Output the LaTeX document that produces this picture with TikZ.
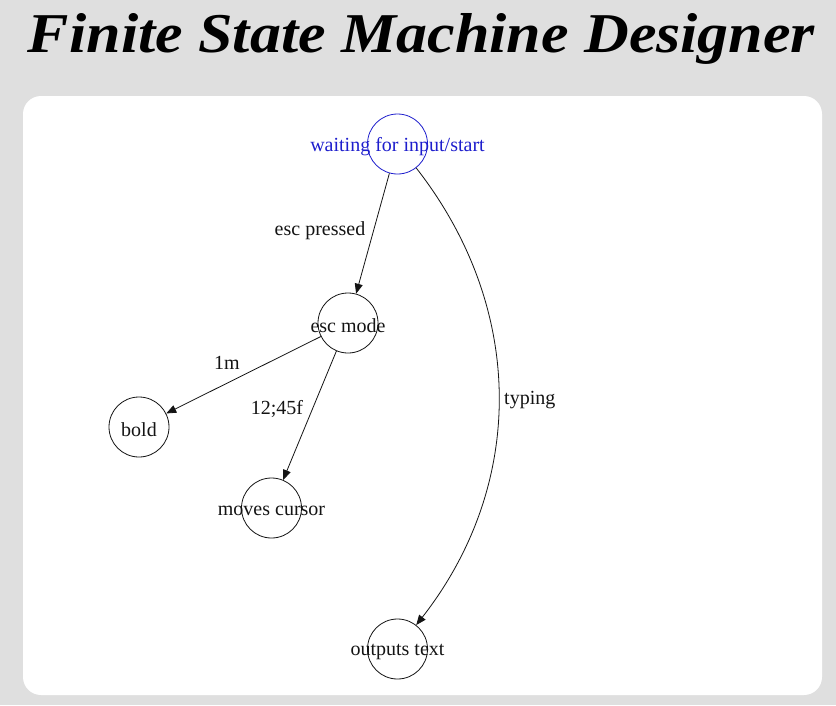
\documentclass[tikz,border=0pt]{standalone}
\usepackage{fontspec}
\setmainfont{Liberation Serif}
\usetikzlibrary{arrows.meta}
\definecolor{bg}{RGB}{223,223,223}
\definecolor{selblue}{RGB}{30,30,205}
\definecolor{ink}{RGB}{20,20,20}
\begin{document}
\begin{tikzpicture}[x=1pt,y=1pt,
  state/.style={circle,draw=ink,minimum size=60pt,inner sep=0pt,line width=0.8pt},
  seltext/.style={font=\fontsize{20}{22}\selectfont,text=selblue,yshift=-2.5pt},
  stext/.style={font=\fontsize{20}{22}\selectfont,text=ink,yshift=-2.5pt},
  lbl/.style={font=\fontsize{20}{22}\selectfont,text=ink,inner sep=0pt,yshift=-2pt},
  edge/.style={draw=ink,line width=0.8pt,-{Triangle[length=10pt,width=8pt]}}]
\fill[bg] (0,0) rectangle (836,-705);
\fill[white, rounded corners=18pt] (23,-96) rectangle (822,-695);
\useasboundingbox (0,0) rectangle (836,-705);
\node[anchor=base,inner sep=0pt] (title) at (421.5,-52) {\resizebox{787pt}{39pt}{\bfseries\itshape Finite State Machine Designer}};
% states
\node[state,draw=selblue] (start) at (397.5,-144) {};
\node[seltext] (startt) at (start) {waiting for input/start};
\node[state] (esc) at (348,-323) {};
\node[stext] (esct) at (esc) {esc mode};
\node[state] (bold) at (139,-427) {};
\node[stext] (boldt) at (bold) {bold};
\node[state] (moves) at (271.5,-508) {};
\node[stext] (movest) at (moves) {moves cursor};
\node[state] (out) at (397.5,-649) {};
\node[stext] (outt) at (out) {outputs text};
% edges
\draw[edge] (start) -- (esc);
\draw[edge] (esc) -- (bold);
\draw[edge] (esc) -- (moves);
\draw[edge] (start) to[bend left=38] (out);
% labels
\node[lbl] (l1) at (320,-229) {esc pressed};
\node[lbl] (l2) at (227,-361) {1m};
\node[lbl] (l3) at (277,-407) {12;45f};
\node[lbl,anchor=west] (l4) at (504,-398) {typing};
\end{tikzpicture}
\end{document}
